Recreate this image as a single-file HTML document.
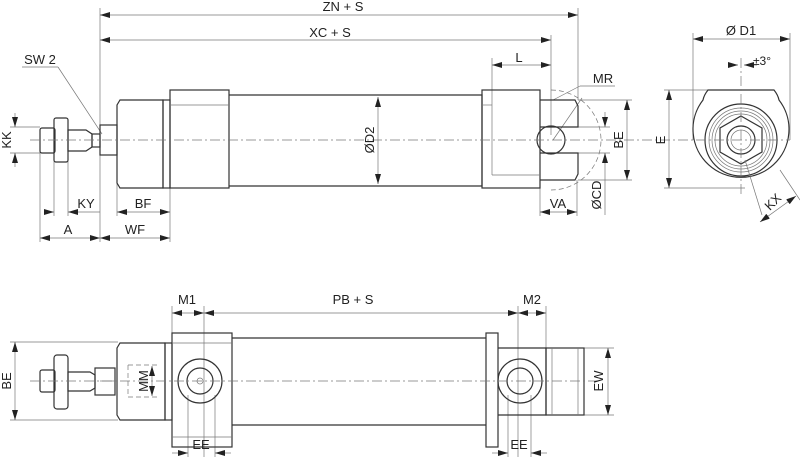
<!DOCTYPE html>
<html><head><meta charset="utf-8"><style>
html,body{margin:0;padding:0;background:#fff}
svg{display:block}
text{font-family:"Liberation Sans",sans-serif;font-size:13px;fill:#222}
.o{fill:none;stroke:#333;stroke-width:1.2}
.t{fill:none;stroke:#777;stroke-width:0.7}
.c{fill:none;stroke:#777;stroke-width:0.7;stroke-dasharray:10 3 2 3}
.d{fill:none;stroke:#777;stroke-width:0.7;stroke-dasharray:5 3}
</style></head><body>
<svg width="800" height="457" viewBox="0 0 800 457" xmlns="http://www.w3.org/2000/svg">
<defs>
<marker id="a" viewBox="0 0 10 6" refX="10" refY="3" markerWidth="10" markerHeight="6" orient="auto-start-reverse" markerUnits="userSpaceOnUse"><path d="M0,0 L10,3 L0,6z" fill="#222"/></marker>
</defs>
<g class="t">
<line x1="100" y1="8" x2="100" y2="242"/>
<line x1="578" y1="8" x2="578" y2="100"/>
<line x1="551" y1="35" x2="551" y2="135"/>
<line x1="492" y1="58" x2="492" y2="105"/>
<line x1="40" y1="150" x2="40" y2="242"/>
<line x1="54" y1="160" x2="54" y2="216"/>
<line x1="68" y1="160" x2="68" y2="216"/>
<line x1="117" y1="155" x2="117" y2="216"/>
<line x1="170" y1="188" x2="170" y2="242"/>
<line x1="540" y1="180" x2="540" y2="216"/>
<line x1="577" y1="180" x2="577" y2="216"/>
<line x1="10" y1="127" x2="40" y2="127"/><line x1="10" y1="153" x2="40" y2="153"/>
<line x1="578" y1="100" x2="632" y2="100"/><line x1="578" y1="180" x2="632" y2="180"/>
<line x1="576" y1="127" x2="610" y2="127"/><line x1="576" y1="153" x2="610" y2="153"/>
<line x1="693" y1="33" x2="693" y2="140"/><line x1="790" y1="33" x2="790" y2="140"/>
<line x1="664" y1="90" x2="712" y2="90"/><line x1="664" y1="188" x2="745" y2="188"/>
<line x1="553" y1="100" x2="580" y2="86"/><line x1="580" y1="86" x2="615" y2="86"/>
<line x1="553" y1="140" x2="582" y2="98"/>
<line x1="58" y1="67" x2="22" y2="67"/><line x1="58" y1="67" x2="102" y2="134"/>
</g>
<g class="t" marker-start="url(#a)" marker-end="url(#a)">
<line x1="100" y1="15" x2="578" y2="15"/>
<line x1="100" y1="40" x2="551" y2="40"/>
<line x1="492" y1="65" x2="551" y2="65"/>
<line x1="15" y1="113" x2="15" y2="127" marker-start="none"/>
<line x1="15" y1="167" x2="15" y2="153" marker-start="none"/>
<line x1="378" y1="97" x2="378" y2="184"/>
<line x1="44" y1="212" x2="54" y2="212" marker-start="none"/>
<line x1="78" y1="212" x2="68" y2="212" marker-start="none"/>
<line x1="117" y1="212" x2="170" y2="212"/>
<line x1="40" y1="238" x2="100" y2="238"/>
<line x1="100" y1="238" x2="170" y2="238"/>
<line x1="540" y1="212" x2="577" y2="212"/>
<line x1="627" y1="100" x2="627" y2="180"/>
<line x1="605" y1="112" x2="605" y2="127" marker-start="none"/>
<line x1="605" y1="168" x2="605" y2="153" marker-start="none"/>
<line x1="693" y1="39" x2="790" y2="39"/>
<line x1="669" y1="90" x2="669" y2="188"/>
<line x1="728" y1="65" x2="738" y2="65" marker-start="none"/>
<line x1="757" y1="65" x2="744" y2="65" marker-start="none"/>
</g>
<line class="t" x1="78" y1="212" x2="100" y2="212"/>
<line class="t" x1="605" y1="168" x2="605" y2="215"/>
<g class="o">
<rect x="40" y="128" width="15" height="25" rx="2"/>
<rect x="54" y="118" width="14" height="44" rx="2"/>
<path d="M68,130 L86,130 L92,134 L92,147 L86,151 L68,151z"/>
<rect x="92" y="134" width="8" height="13"/>
<rect x="100" y="125" width="17" height="30"/>
<path d="M120,100 L163,100 L163,188 L120,188 L117,183 L117,105z"/>
<rect x="163" y="100" width="7" height="88"/>
<rect x="170" y="90" width="59" height="98"/>
<path d="M229,95 L482,95 L482,186 L229,186"/>
<rect x="482" y="90" width="58" height="98"/>
<path d="M540,100 L575,100 L578,106 L578,127 L540,127"/>
<path d="M540,180 L575,180 L578,174 L578,153 L540,153"/>
<circle cx="551" cy="140" r="14"/>
<path d="M735,90 L774,90 Q778,95 779,100 A48 48 0 1 1 703,100 Q704,95 708,90z"/>
<circle cx="741" cy="140" r="36"/>
<polygon points="741,116 762,128 762,152 741,164 720,152 720,128"/>
<circle cx="741" cy="140" r="14"/>
</g>
<g class="t">
<line x1="170" y1="105" x2="229" y2="105"/>
<line x1="492" y1="105" x2="492" y2="175"/><line x1="492" y1="175" x2="540" y2="175"/>
<line x1="482" y1="105" x2="492" y2="105"/>
<circle cx="741" cy="140" r="32"/><circle cx="741" cy="140" r="29"/><circle cx="741" cy="140" r="26"/>
<circle cx="741" cy="140" r="10"/>
<line x1="745" y1="160" x2="762" y2="215"/>
<line x1="780" y1="170" x2="800" y2="200"/>
</g>
<path class="d" d="M551,90 A50 50 0 0 1 551,190"/>
<line class="c" x1="30" y1="140" x2="790" y2="140"/>
<line class="c" x1="741" y1="58" x2="741" y2="196"/>
<line class="t" x1="760" y1="222" x2="796" y2="196" marker-start="url(#a)" marker-end="url(#a)"/>
<text x="343" y="11" text-anchor="middle">ZN + S</text>
<text x="330" y="37" text-anchor="middle">XC + S</text>
<text x="519" y="62" text-anchor="middle">L</text>
<text x="40" y="64" text-anchor="middle">SW 2</text>
<text x="603" y="83" text-anchor="middle">MR</text>
<text x="86" y="208" text-anchor="middle">KY</text>
<text x="143" y="208" text-anchor="middle">BF</text>
<text x="68" y="234" text-anchor="middle">A</text>
<text x="135" y="234" text-anchor="middle">WF</text>
<text x="558" y="208" text-anchor="middle">VA</text>
<text x="741" y="35" text-anchor="middle">Ø D1</text>
<text x="762" y="65" text-anchor="middle" style="font-size:12px">±3°</text>
<text transform="translate(11,140) rotate(-90)" text-anchor="middle">KK</text>
<text transform="translate(374,140) rotate(-90)" text-anchor="middle">ØD2</text>
<text transform="translate(623,140) rotate(-90)" text-anchor="middle">BE</text>
<text transform="translate(601,195) rotate(-90)" text-anchor="middle">ØCD</text>
<text transform="translate(665,140) rotate(-90)" text-anchor="middle">E</text>
<text transform="translate(776,205) rotate(-45)" text-anchor="middle">KX</text>
<g class="t">
<line x1="172" y1="306" x2="172" y2="333"/><line x1="204" y1="306" x2="204" y2="457"/>
<line x1="518" y1="306" x2="518" y2="457"/><line x1="546" y1="306" x2="546" y2="348"/>
<line x1="10" y1="342" x2="118" y2="342"/><line x1="10" y1="420" x2="118" y2="420"/>
<line x1="584" y1="348" x2="614" y2="348"/><line x1="584" y1="415" x2="614" y2="415"/>
<line x1="188" y1="395" x2="188" y2="457"/><line x1="215" y1="395" x2="215" y2="457"/>
<line x1="508" y1="395" x2="508" y2="457"/><line x1="531" y1="395" x2="531" y2="457"/>
</g>
<g class="d"><line x1="128" y1="365" x2="160" y2="365"/><line x1="128" y1="397" x2="160" y2="397"/><line x1="128" y1="365" x2="128" y2="397"/></g>
<g class="t" marker-start="url(#a)" marker-end="url(#a)">
<line x1="172" y1="313" x2="204" y2="313"/>
<line x1="204" y1="313" x2="518" y2="313"/>
<line x1="518" y1="313" x2="546" y2="313"/>
<line x1="15" y1="342" x2="15" y2="420"/>
<line x1="608" y1="348" x2="608" y2="415"/>
<line x1="152" y1="366" x2="152" y2="396"/>
<line x1="172" y1="453" x2="188" y2="453" marker-start="none"/>
<line x1="231" y1="453" x2="215" y2="453" marker-start="none"/>
<line x1="492" y1="453" x2="508" y2="453" marker-start="none"/>
<line x1="547" y1="453" x2="531" y2="453" marker-start="none"/>
</g>
<g class="o">
<rect x="40" y="370" width="15" height="22" rx="2"/>
<rect x="54" y="355" width="14" height="54" rx="3"/>
<path d="M68,372 L90,372 L95,375 L95,388 L90,391 L68,391z"/>
<rect x="95" y="368" width="20" height="27"/>
<path d="M120,343 L165,343 L165,420 L120,420 L117,415 L117,348z"/>
<rect x="165" y="343" width="7" height="77"/>
<rect x="172" y="333" width="60" height="114"/>
<path d="M232,338 L486,338 M232,425 L486,425"/>
<rect x="486" y="333" width="12" height="114"/>
<path d="M498,348 L546,348 L546,415 L498,415"/>
<rect x="546" y="348" width="38" height="67"/>
<circle cx="200" cy="381" r="22"/><circle cx="200" cy="381" r="13"/>
<circle cx="520" cy="381" r="22"/><circle cx="520" cy="381" r="13"/>
</g>
<g class="t">
<circle cx="200" cy="381" r="3"/>
<line x1="172" y1="343" x2="232" y2="343"/><line x1="172" y1="437" x2="232" y2="437"/>
<line x1="552" y1="348" x2="552" y2="415"/><line x1="578" y1="348" x2="578" y2="415"/>
<line x1="100" y1="381" x2="115" y2="381"/>
</g>
<line class="c" x1="30" y1="381" x2="600" y2="381"/>
<text x="187" y="304" text-anchor="middle">M1</text>
<text x="353" y="304" text-anchor="middle">PB + S</text>
<text x="532" y="304" text-anchor="middle">M2</text>
<text x="201" y="449" text-anchor="middle">EE</text>
<text x="519" y="449" text-anchor="middle">EE</text>
<text transform="translate(11,381) rotate(-90)" text-anchor="middle">BE</text>
<text transform="translate(148,381) rotate(-90)" text-anchor="middle">MM</text>
<text transform="translate(603,381) rotate(-90)" text-anchor="middle">EW</text>
</svg>
</body></html>
